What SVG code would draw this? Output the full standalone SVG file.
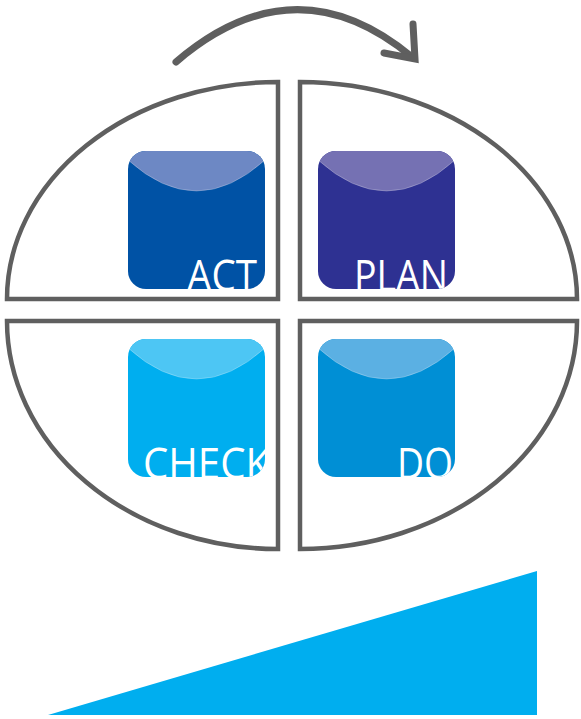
<svg xmlns="http://www.w3.org/2000/svg" width="581" height="719" viewBox="0 0 581 719">
<style>
.q{fill:#fff;stroke:#5f5f5f;stroke-width:4.5;stroke-linejoin:miter}
.arr{fill:none;stroke:#5f5f5f;stroke-width:7;stroke-linecap:round}
.lbl{fill:#fff;font-family:"Open Sans","Noto Sans",sans-serif;font-size:44px}
.hl{stroke:#ffffff;stroke-opacity:0.25;stroke-width:1}
</style>
<defs>
<clipPath id="cA"><rect x="128" y="151" width="137" height="138" rx="18"/></clipPath>
<clipPath id="cP"><rect x="318" y="151" width="137" height="138" rx="18"/></clipPath>
<clipPath id="cC"><rect x="128" y="339" width="137" height="138" rx="18"/></clipPath>
<clipPath id="cD"><rect x="318" y="339" width="137" height="138" rx="18"/></clipPath>
</defs>
<rect width="581" height="719" fill="#fff"/>
<g id="quadrants">
<path class="q" d="M278,82 L278,299 L7,299 A271,217 0 0 1 278,82 Z"/>
<path class="q" d="M300,82 A277,217 0 0 1 577,299 L300,299 Z"/>
<path class="q" d="M7,321 L278,321 L278,549 A271,228 0 0 1 7,321 Z"/>
<path class="q" d="M300,321 L577,321 A277,228 0 0 1 300,549 Z"/>
</g>
<g id="connectors">
<path class="arr" d="M176,62 Q295,-40 412,57"/>
<path class="arr" d="M413,24 L415,59 L384,53"/>
</g>
<g id="act">
<rect x="128" y="151" width="137" height="138" rx="18" fill="#0052a5"/>
<path class="hl" clip-path="url(#cA)" fill="#6d88c4" d="M128,140 L128,160 Q196.5,222 265,160 L265,140 Z"/>
<text class="lbl" clip-path="url(#cA)" x="187" y="291" textLength="70" lengthAdjust="spacingAndGlyphs">ACT</text>
</g>
<g id="plan">
<rect x="318" y="151" width="137" height="138" rx="18" fill="#2e3192"/>
<path class="hl" clip-path="url(#cP)" fill="#7571b3" d="M318,140 L318,160 Q386.5,222 455,160 L455,140 Z"/>
<text class="lbl" clip-path="url(#cP)" x="354" y="291" textLength="94" lengthAdjust="spacingAndGlyphs">PLAN</text>
</g>
<g id="check">
<rect x="128" y="339" width="137" height="138" rx="18" fill="#00aeef"/>
<path class="hl" clip-path="url(#cC)" fill="#4dc6f4" d="M128,328 L128,348 Q196.5,410 265,348 L265,328 Z"/>
<text class="lbl" clip-path="url(#cC)" x="143" y="479" textLength="127" lengthAdjust="spacingAndGlyphs">CHECK</text>
</g>
<g id="do">
<rect x="318" y="339" width="137" height="138" rx="18" fill="#008fd5"/>
<path class="hl" clip-path="url(#cD)" fill="#5bb0e3" d="M318,328 L318,348 Q386.5,410 455,348 L455,328 Z"/>
<text class="lbl" clip-path="url(#cD)" x="397" y="479" textLength="56" lengthAdjust="spacingAndGlyphs">DO</text>
</g>
<polygon id="wedge" points="48,715 537,571 537,715" fill="#00aeef"/>
</svg>
